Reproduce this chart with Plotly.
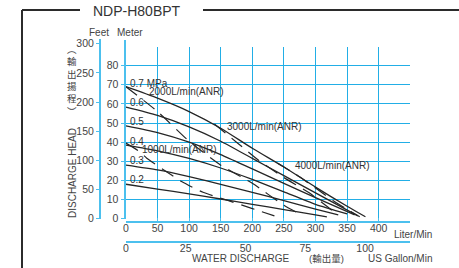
import plotly.graph_objects as go

W, H = 459, 268

# ---------------- data ----------------
liter_ticks = [0, 50, 100, 150, 200, 250, 300, 350, 400]
gallon_ticks = [0, 25, 50, 75, 100]
meter_ticks = [0, 10, 20, 30, 40, 50, 60, 70, 80]
feet_ticks = [0, 50, 100, 150, 200, 250, 300]
grid_x = [50, 100, 150, 200, 250, 300, 350, 400, 450]
grid_y = [10, 20, 30, 40, 50, 60, 70, 80, 90]

# pressure curves (flow L/min, head m)
p07_x = [0, 50, 100, 150, 200, 250, 300, 350, 379]
p07_y = [69, 63, 56, 47.3, 36.8, 27, 16.5, 6.5, 1]
p06_x = [0, 50, 100, 150, 200, 250, 300, 367]
p06_y = [58.3, 54, 48, 40.5, 31.5, 22.5, 13.5, 1.5]
p05_x = [0, 50, 100, 150, 200, 250, 300, 362]
p05_y = [48.5, 45, 40, 33.5, 26, 18.5, 11, 2]
p04_x = [0, 50, 100, 150, 200, 250, 300, 350]
p04_y = [38.5, 35.5, 31.5, 26.5, 20.5, 14, 7.5, 2.5]
p03_x = [0, 50, 100, 150, 200, 250, 300, 336]
p03_y = [28, 25.5, 22, 18, 13.8, 9.5, 5, 2]
p02_x = [0, 50, 100, 150, 200, 250, 300, 318]
p02_y = [18, 15.5, 13, 10.3, 7.5, 4.8, 2, 1]
pressure_names = ["0.7 MPa", "0.6", "0.5", "0.4", "0.3", "0.2"]

# air consumption curves
a1000_x = [0, 22, 33, 60, 88, 122, 159, 199, 235]
a1000_y = [39.5, 35, 31.6, 25.5, 19.4, 13.8, 9.8, 5.4, 1.5]
a2000_x = [0, 50, 100, 150, 200, 250, 280]
a2000_y = [69, 56, 40.5, 28, 18.5, 7, 1.5]
a3000_x = [140, 175, 210, 250, 290, 320, 335]
a3000_y = [49.5, 40, 30.5, 21.5, 13.5, 6, 2]
a4000_x = [240, 270, 300, 330, 355, 370]
a4000_y = [29, 23, 16, 9, 4, 1]
air_names = ["1000L/min(ANR)", "2000L/min(ANR)", "3000L/min(ANR)", "4000L/min(ANR)"]

# ---------------- layout geometry ----------------
X0, X1 = 125.9, 410.3      # px of 0 and 450 L/min
YB, YT = 218.7, 46.5       # px of 0 and 90 m
m_per_px = 90 / (YB - YT)
FT = 3.28084
GAL = 3.78541


def fx(p):
    return p / W


def fy(p):
    return 1 - p / H


BLUE_GRID = "#22aee6"
BLUE_AX = "#4cc0ee"
TXT = "#444444"
LINE = "#262626"
FONT = "Liberation Sans, Arial, Noto Sans CJK TC"

fig = go.Figure()

for xs, ys in [(p07_x, p07_y), (p06_x, p06_y), (p05_x, p05_y),
               (p04_x, p04_y), (p03_x, p03_y), (p02_x, p02_y)]:
    fig.add_trace(go.Scatter(x=xs, y=ys, mode="lines",
                             line=dict(color=LINE, width=1.3, shape="spline", smoothing=0.6),
                             showlegend=False, hoverinfo="skip"))

for xs, ys in [(a1000_x, a1000_y), (a2000_x, a2000_y), (a3000_x, a3000_y), (a4000_x, a4000_y)]:
    fig.add_trace(go.Scatter(x=xs, y=ys, mode="lines",
                             line=dict(color=LINE, width=1.2, dash="14px,8px", shape="spline", smoothing=0.6),
                             showlegend=False, hoverinfo="skip"))

# dummy traces to activate auxiliary axes
fig.add_trace(go.Scatter(x=[0], y=[0], xaxis="x4", yaxis="y2", mode="markers",
                         marker=dict(opacity=0), showlegend=False, hoverinfo="skip"))
fig.add_trace(go.Scatter(x=[0], y=[0], xaxis="x4", yaxis="y3", mode="markers",
                         marker=dict(opacity=0), showlegend=False, hoverinfo="skip"))
fig.add_trace(go.Scatter(x=[0], y=[0], xaxis="x5", yaxis="y", mode="markers",
                         marker=dict(opacity=0), showlegend=False, hoverinfo="skip"))
fig.add_trace(go.Scatter(x=[0], y=[0], xaxis="x6", yaxis="y", mode="markers",
                         marker=dict(opacity=0), showlegend=False, hoverinfo="skip"))

tickfont = dict(family=FONT, size=10.5, color=TXT)

fig.update_layout(
    template="none",
    width=W, height=H,
    margin=dict(l=0, r=0, t=0, b=0, autoexpand=False),
    paper_bgcolor="white", plot_bgcolor="rgba(0,0,0,0)",
    xaxis=dict(domain=[fx(X0), fx(X1)], range=[0, 450], tickmode="array", tickvals=grid_x,
               showticklabels=False, ticks="", showgrid=True, gridcolor=BLUE_GRID, gridwidth=1.3,
               zeroline=False, showline=False, anchor="y"),
    yaxis=dict(domain=[fy(YB), fy(YT)], range=[0, 90], tickmode="array", tickvals=grid_y,
               showticklabels=False, ticks="", showgrid=True, gridcolor=BLUE_GRID, gridwidth=1.3,
               zeroline=False, showline=False, anchor="x"),
    xaxis4=dict(domain=[fx(X0), fx(X1)], range=[0, 450], visible=False, showgrid=False, anchor="y2"),
    yaxis2=dict(domain=[fy(YB), fy(39)], range=[0, (YB - 39) * m_per_px * FT], anchor="free",
                position=fx(100), tickmode="array", tickvals=feet_ticks, ticks="outside", ticklen=3,
                tickcolor=BLUE_AX, showline=True, linecolor=BLUE_AX, linewidth=2, showgrid=False,
                zeroline=False, tickfont=tickfont),
    yaxis3=dict(domain=[fy(YB), fy(40)], range=[0, (YB - 40) * m_per_px], anchor="free",
                position=fx(124.5), tickmode="array", tickvals=meter_ticks, ticks="outside", ticklen=3,
                tickcolor=BLUE_AX, showline=True, linecolor=BLUE_AX, linewidth=2, showgrid=False,
                zeroline=False, tickfont=tickfont),
    xaxis5=dict(overlaying="x", anchor="free", position=fy(221.7), range=[0, 450], side="bottom",
                tickmode="array", tickvals=liter_ticks, ticks="inside", ticklen=3, tickcolor=BLUE_AX,
                showline=True, linecolor=BLUE_AX, linewidth=2, showgrid=False, zeroline=False,
                tickfont=tickfont, ticklabelstandoff=-3),
    xaxis6=dict(overlaying="x", anchor="free", position=fy(242.3), range=[0, 450 / GAL], side="bottom",
                tickmode="array", tickvals=gallon_ticks, ticks="", showline=True, linecolor=BLUE_AX,
                linewidth=2, showgrid=False, zeroline=False, tickfont=tickfont, ticklabelstandoff=-4),
    font=dict(family=FONT, color=TXT),
)

ann = []


def paper_text(text, x, y, size, **kw):
    d = dict(text=text, x=fx(x), y=fy(y), xref="paper", yref="paper", showarrow=False,
             font=dict(family=FONT, size=size, color=kw.pop("color", TXT)), xanchor="center", yanchor="middle")
    d.update(kw)
    ann.append(d)


paper_text("NDP-H80BPT", 137, 10.5, 14, color="#333333")
paper_text("Feet", 99, 33, 10)
paper_text("Meter", 130, 33, 10)
paper_text("DISCHARGE HEAD", 72, 173, 10, textangle=-90)
paper_text("︵<br>輸<br>出<br>揚<br>程<br>︶", 71.5, 80.5, 9.5)
paper_text("Liter/Min", 413, 234, 10)
paper_text("WATER DISCHARGE", 240.5, 258, 10)
paper_text("(輸出量)", 326, 258, 9.5)
paper_text("US Gallon/Min", 400, 258, 10)

# curve labels in data coords
label_pos = [(3.3, 70.9), (3.3, 60.9), (3.3, 50.7), (3.3, 40.4), (3.3, 30.4), (3.3, 20.5)]
for name, (x, y) in zip(pressure_names, label_pos):
    ann.append(dict(text=name, x=x, y=y, xref="x", yref="y", showarrow=False, xanchor="left",
                    yanchor="middle", font=dict(family=FONT, size=10, color="#333333")))
air_pos = [(22.3, 36.4), (33.4, 66.7), (156.8, 48.0), (263.9, 27.7)]
for name, (x, y) in zip(air_names, air_pos):
    ann.append(dict(text=name, x=x, y=y, xref="x", yref="y", showarrow=False, xanchor="left",
                    yanchor="middle", font=dict(family=FONT, size=10, color="#333333")))

fig.update_layout(annotations=ann)

# frame
FR = dict(color="#2b2b2b", width=2)
fig.update_layout(shapes=[
    dict(type="line", xref="paper", yref="paper", x0=fx(22), y0=fy(10), x1=fx(80), y1=fy(10), line=FR),
    dict(type="line", xref="paper", yref="paper", x0=fx(203), y0=fy(10), x1=1, y1=fy(10), line=FR),
    dict(type="line", xref="paper", yref="paper", x0=fx(22), y0=fy(10), x1=fx(22), y1=0, line=FR),
])

fig.write_html("out.html", config={"displayModeBar": False},
               post_script="document.body.style.margin='0';document.body.style.padding='0';")
